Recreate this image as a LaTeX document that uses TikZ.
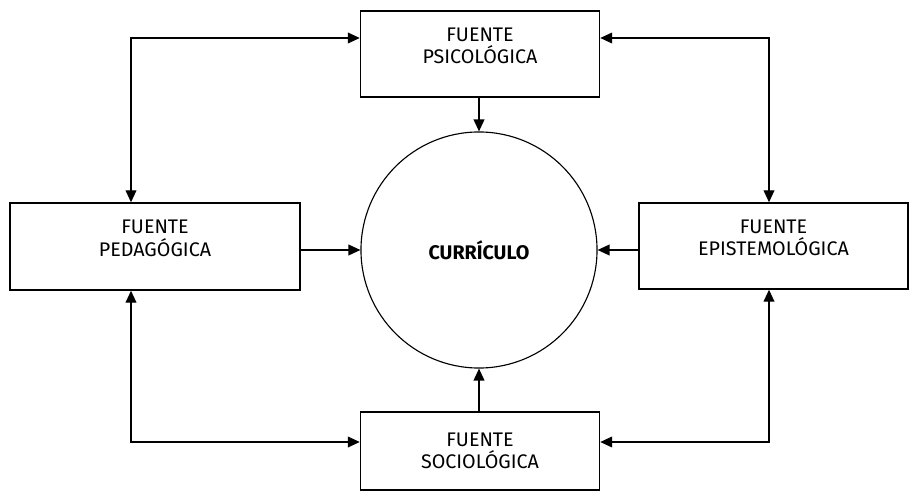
\documentclass[tikz,border=0pt]{standalone}
\usepackage{fontspec}
\setmainfont{Fira Sans}
\usetikzlibrary{positioning,arrows.meta,calc}

\begin{document}
\begin{tikzpicture}[
  x=0.025cm, y=-0.025cm,
  >={Triangle[length=0.3cm,width=0.27cm]},
  line width=1pt,
  fuente/.style={rectangle, draw, align=center, font=\fontsize{14}{16}\selectfont, inner sep=0pt},
  centro/.style={circle, draw, minimum size=5.9cm, inner sep=0pt, font=\fontsize{14}{16}\selectfont\bfseries}
]

% -----------------------
% Layout parameters (pixels of the sheet)
% -----------------------
\def\xmid{480}
\def\xl{131}
\def\xr{769}
\def\yt{38}
\def\yb{442}

\useasboundingbox (0,0) rectangle (919,498);

% -----------------------
% Centre
% -----------------------
\node[centro, line width=0.8pt] (curr) at (479,250) {CURRÍCULO};

% -----------------------
% Sources
% -----------------------
\node[fuente, minimum width=5.975cm, minimum height=2.15cm] (psi) at (\xmid,54)
  {FUENTE\\PSICOLÓGICA\\[-4pt]};
\node[fuente, minimum width=7.25cm, minimum height=2.175cm] (ped) at (155,246.5)
  {FUENTE\\PEDAGÓGICA\\[-4pt]};
\node[fuente, minimum width=6.725cm, minimum height=2.15cm] (epi) at (773.5,246)
  {FUENTE\\EPISTEMOLÓGICA\\[-4pt]};
\node[fuente, minimum width=5.975cm, minimum height=1.95cm] (soc) at (\xmid,451)
  {FUENTE\\SOCIOLÓGICA};

% corner guides
\coordinate (tl) at (\xl,\yt);
\coordinate (tr) at (\xr,\yt);
\coordinate (bl) at (\xl,\yb);
\coordinate (br) at (\xr,\yb);

% -----------------------
% Into the curriculum
% -----------------------
\draw[->] (psi.south -| curr) -- (curr.north);
\draw[->] (soc.north -| curr) -- (curr.south);
\draw[->] (ped.east |- curr) -- (curr.west);
\draw[->] (epi.west |- curr) -- (curr.east);

% -----------------------
% Links round the outside
% -----------------------
\draw[<->] (psi.west |- tl) -| (ped.north -| tl);
\draw[<->] (psi.east |- tr) -| (epi.north -| tr);
\draw[<->] (ped.south -| bl) |- (soc.west |- bl);
\draw[<->] (epi.south -| br) |- (soc.east |- br);

\end{tikzpicture}
\end{document}
